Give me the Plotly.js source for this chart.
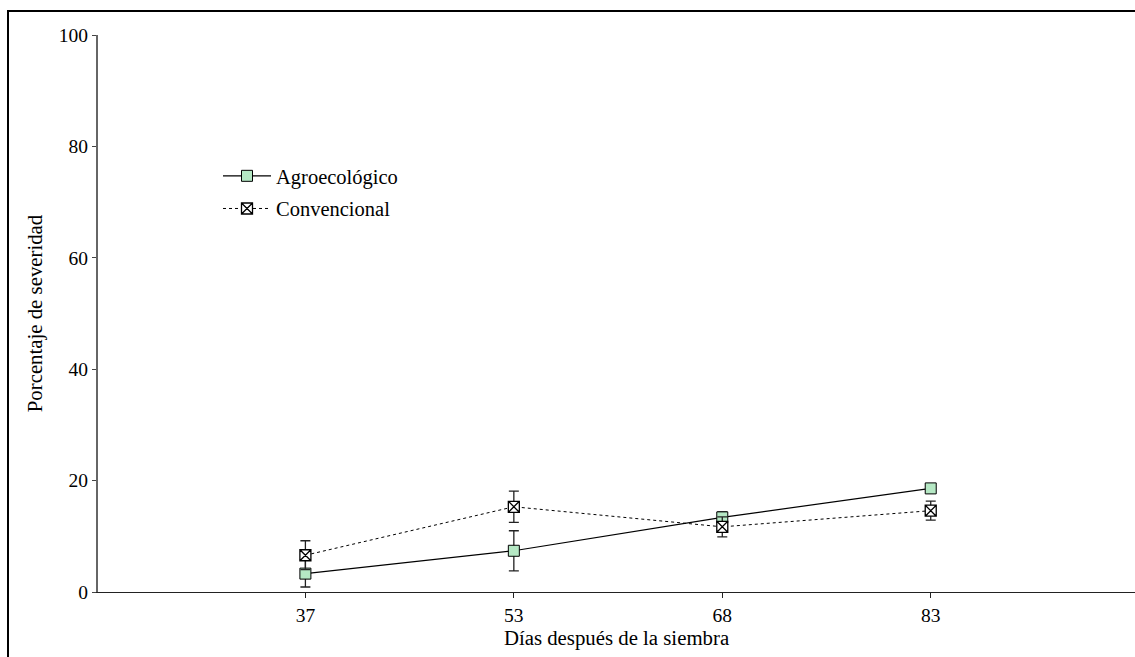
<!DOCTYPE html>
<html>
<head>
<meta charset="utf-8">
<script src="https://cdn.plot.ly/plotly-3.0.1.min.js"></script>
<style>html,body{margin:0;padding:0;background:#fff;}#chart{width:1135px;height:657px;}</style>
</head>
<body>
<div id="chart"></div>
<script>
const dias = ["37", "53", "68", "83"];
const agroecologico = [3.3, 7.4, 13.4, 18.6];
const agroError = [2.4, 3.6, 1.0, 0.4];
const convencional = [6.6, 15.3, 11.7, 14.6];
const convError = [2.6, 2.8, 1.8, 1.7];
const yTicks = [0, 20, 40, 60, 80, 100];

const idx = dias.map((d, i) => i);
const fontFam = '"Liberation Serif", "Times New Roman", serif';

const traces = [
  {
    x: idx, y: agroecologico, name: 'Agroecológico', type: 'scatter', mode: 'lines+markers',
    legendgroup: 'a',
    line: {color: '#000', width: 1.2},
    marker: {symbol: 'square', size: 11, color: '#b5e8c4', line: {color: '#000', width: 1}},
    error_y: {type: 'data', array: agroError, visible: true, color: '#222', thickness: 1.3, width: 5}
  },
  {
    x: idx, y: convencional, name: 'Convencional', type: 'scatter', mode: 'lines+markers',
    legendgroup: 'b',
    line: {color: '#000', width: 1, dash: '3px,3px'},
    marker: {symbol: 'square-x', size: 11, color: '#fff', line: {color: '#000', width: 1.3}},
    error_y: {type: 'data', array: convError, visible: true, color: '#222', thickness: 1.3, width: 5}
  }
];

const L = 98, T = 35, W = 1135 - 98, H = 592 - 35;
const layout = {
  width: 1135, height: 657,
  margin: {l: L, r: 0, t: T, b: 657 - 592, pad: 0},
  paper_bgcolor: '#fff', plot_bgcolor: '#fff',
  font: {family: fontFam, size: 19, color: '#000'},
  showlegend: true,
  legend: {x: (218 - L) / W, y: 1 - (156 - T) / H, xanchor: 'left', yanchor: 'top',
           bgcolor: 'rgba(0,0,0,0)', font: {family: fontFam, size: 20.5, color: '#000'},
           tracegroupgap: 3, itemwidth: 48},
  xaxis: {
    range: [-0.995, 3.98], tickmode: 'array', tickvals: idx, ticktext: dias,
    showgrid: false, zeroline: false, showline: true, linecolor: '#222', linewidth: 1.3,
    ticks: 'outside', ticklen: 5, tickcolor: '#222', tickwidth: 1,
    tickfont: {family: fontFam, size: 19.5, color: '#000'},
    title: {text: 'Días después de la siembra', font: {family: fontFam, size: 20.8, color: '#000'}, standoff: 3},
    fixedrange: true
  },
  yaxis: {
    range: [0, 100], tickmode: 'array', tickvals: yTicks,
    showgrid: false, zeroline: false, showline: true, linecolor: '#666', linewidth: 2,
    ticks: 'outside', ticklen: 4, tickcolor: '#444', tickwidth: 1,
    tickfont: {family: fontFam, size: 19.5, color: '#000'},
    title: {text: 'Porcentaje de severidad', font: {family: fontFam, size: 20.8, color: '#000'}, standoff: 11},
    fixedrange: true
  },
  shapes: [
    {type: 'path', xref: 'paper', yref: 'paper',
     path: 'M ' + ((8 - L) / W) + ',' + (-(700 - 592) / H) + ' L ' + ((8 - L) / W) + ',' + (1 + (T - 11) / H) + ' L ' + ((1160 - L) / W) + ',' + (1 + (T - 11) / H),
     line: {color: '#000', width: 2}}
  ]
};

Plotly.newPlot('chart', traces, layout, {displayModeBar: false, staticPlot: true});
</script>
</body>
</html>
